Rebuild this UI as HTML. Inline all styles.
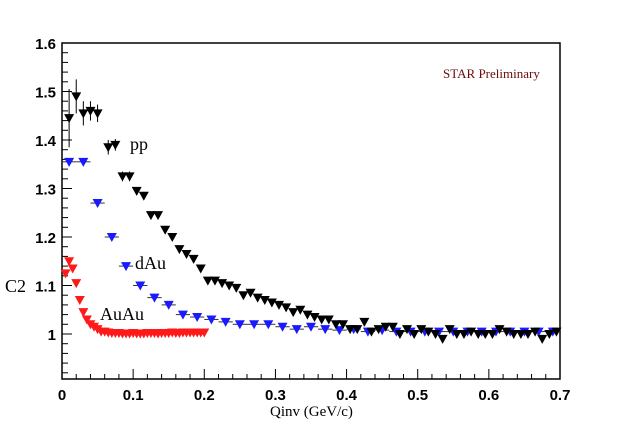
<!DOCTYPE html>
<html><head><meta charset="utf-8"><style>body{margin:0;background:#fff}svg{display:block}</style></head>
<body>
<svg id="c" width="623" height="429" xmlns="http://www.w3.org/2000/svg" font-family="Liberation Serif, serif"></svg>
<script>
const ppX=[0.01,0.02,0.03,0.04,0.05,0.065,0.075,0.085,0.095,0.105,0.115,0.125,0.135,0.145,0.155,0.165,0.175,0.185,0.195,0.205,0.215,0.225,0.235,0.245,0.255,0.265,0.275,0.285,0.295,0.305,0.315,0.325,0.335,0.345,0.355,0.365,0.375,0.385,0.395,0.405,0.415,0.425,0.435,0.445,0.455,0.465,0.475,0.485,0.495,0.505,0.515,0.525,0.535,0.545,0.555,0.565,0.575,0.585,0.595,0.605,0.615,0.625,0.635,0.645,0.655,0.665,0.675,0.685,0.695];
const ppY=[1.445,1.49,1.455,1.46,1.455,1.385,1.39,1.325,1.325,1.295,1.285,1.245,1.245,1.215,1.2,1.175,1.165,1.155,1.135,1.11,1.11,1.105,1.1,1.095,1.08,1.085,1.075,1.07,1.065,1.06,1.055,1.045,1.05,1.04,1.035,1.03,1.03,1.02,1.02,1.01,1.01,1.025,1.005,1.01,1.015,1.015,1.0,1.01,1.0,1.01,1.005,1.0,0.99,1.01,1.0,1.0,1.005,1.0,1.0,1.0,1.01,1.005,1.0,1.0,1.0,1.005,0.99,1.0,1.005];
const ppErr=[0.06,0.035,0.025,0.02,0.018,0.015,0.012,0.01,0.01,0.008,0.008,0.006,0.006,0.005,0.005];
const dAuX=[0.01,0.03,0.05,0.07,0.09,0.11,0.13,0.15,0.17,0.19,0.21,0.23,0.25,0.27,0.29,0.31,0.33,0.35,0.37,0.39,0.41,0.43,0.45,0.47,0.49,0.51,0.53,0.55,0.57,0.59,0.61,0.63,0.65,0.67,0.69];
const dAuY=[1.355,1.355,1.27,1.2,1.14,1.1,1.075,1.06,1.04,1.035,1.03,1.025,1.02,1.02,1.02,1.015,1.01,1.015,1.01,1.008,1.01,1.005,1.008,1.005,1.005,1.005,1.005,1.005,1.005,1.005,1.005,1.005,1.005,1.005,1.005];
const auX=[0.005,0.01,0.015,0.02,0.025,0.03,0.035,0.04,0.045,0.05,0.055,0.06,0.065,0.07,0.075,0.08,0.085,0.09,0.095,0.1,0.105,0.11,0.115,0.12,0.125,0.13,0.135,0.14,0.145,0.15,0.155,0.16,0.165,0.17,0.175,0.18,0.185,0.19,0.195,0.2];
const auY=[1.125,1.15,1.135,1.105,1.07,1.045,1.03,1.02,1.015,1.01,1.005,1.005,1.003,1.002,1.002,1.002,1.001,1.001,1.001,1.002,1.001,1.001,1.001,1.002,1.002,1.002,1.001,1.002,1.002,1.002,1.003,1.002,1.002,1.003,1.003,1.003,1.003,1.003,1.003,1.003];
const xTicks=[0,0.1,0.2,0.3,0.4,0.5,0.6,0.7];
const yTicks=[1,1.1,1.2,1.3,1.4,1.5,1.6];

const L=62,R=560,T=43,B=379;
const sx=v=>L+v/0.7*(R-L);
const sy=v=>334-(v-1)*485;
const svg=document.getElementById('c');
const NS='http://www.w3.org/2000/svg';
function mk(t,a,p){const e=document.createElementNS(NS,t);for(const k in a)e.setAttribute(k,a[k]);(p||svg).appendChild(e);return e;}
const frame=mk('rect',{x:L,y:T,width:R-L,height:B-T,fill:'none',stroke:'#000','stroke-width':1.5});


for(let i=0;i<=35;i++){const v=i*0.02;if(v>0.7001)break;const x=sx(v);const major=Math.abs(v*10-Math.round(v*10))<1e-6;
 mk('line',{x1:x,x2:x,y1:B,y2:B-(major?10:5),stroke:'#000'});}
xTicks.forEach(v=>{const t=mk('text',{x:sx(v),y:B+21,'text-anchor':'middle','font-family':'Liberation Sans, sans-serif','font-weight':'bold','font-size':15});t.textContent=String(v);
 
 });
for(let i=0;i<=35;i++){const v=0.92+i*0.02;if(v>1.6001)break;const y=sy(v);const major=Math.abs(v*10-Math.round(v*10))<1e-6;
 mk('line',{x1:L,x2:L+(major?10:6),y1:y,y2:y,stroke:'#000'});}
yTicks.forEach(v=>{const t=mk('text',{x:L-6,y:sy(v)+6,'text-anchor':'end','font-family':'Liberation Sans, sans-serif','font-weight':'bold','font-size':15});t.textContent=v===1?'1':v.toFixed(1);
 
 });
function tri(x,y,c,g){return mk('path',{d:`M${x-5},${y-4}L${x+5},${y-4}L${x},${y+5}Z`,fill:c},g);}
const gd=mk('g',{});
dAuX.forEach((v,i)=>{const x=sx(v),y=sy(dAuY[i]);mk('line',{x1:sx(v-0.01),x2:sx(v+0.01),y1:y,y2:y,stroke:'#333'},gd);const p=tri(x,y,'#1a1aff',gd);
 });
const gp=mk('g',{});
ppX.forEach((v,i)=>{const x=sx(v),y=sy(ppY[i]);const e=ppErr[i]||0.004;mk('line',{x1:x,x2:x,y1:sy(ppY[i]+e),y2:sy(ppY[i]-e),stroke:'#000'},gp);const p=tri(x,y,'#000',gp);
 });
const ga=mk('g',{});
auX.forEach((v,i)=>{const p=tri(sx(v),sy(auY[i]),'#ff1a1a',ga);
 });
function txt(s,x,y,sz,name,extra){const t=mk('text',Object.assign({x,y,'font-size':sz},extra||{}));t.textContent=s;
 
 return t;}
txt('pp',130,150,18,'pp-label');
txt('dAu',135,269,18,'dau-label');
txt('AuAu',100,320,18,'auau-label');
txt('STAR Preliminary',443,78,13,'star-preliminary-label',{fill:'#6b0a0a'});
txt('C2',5,292,18,'y-axis-title');
txt('Qinv (GeV/c)',270,416,15,'x-axis-title');
</script>
</body></html>
